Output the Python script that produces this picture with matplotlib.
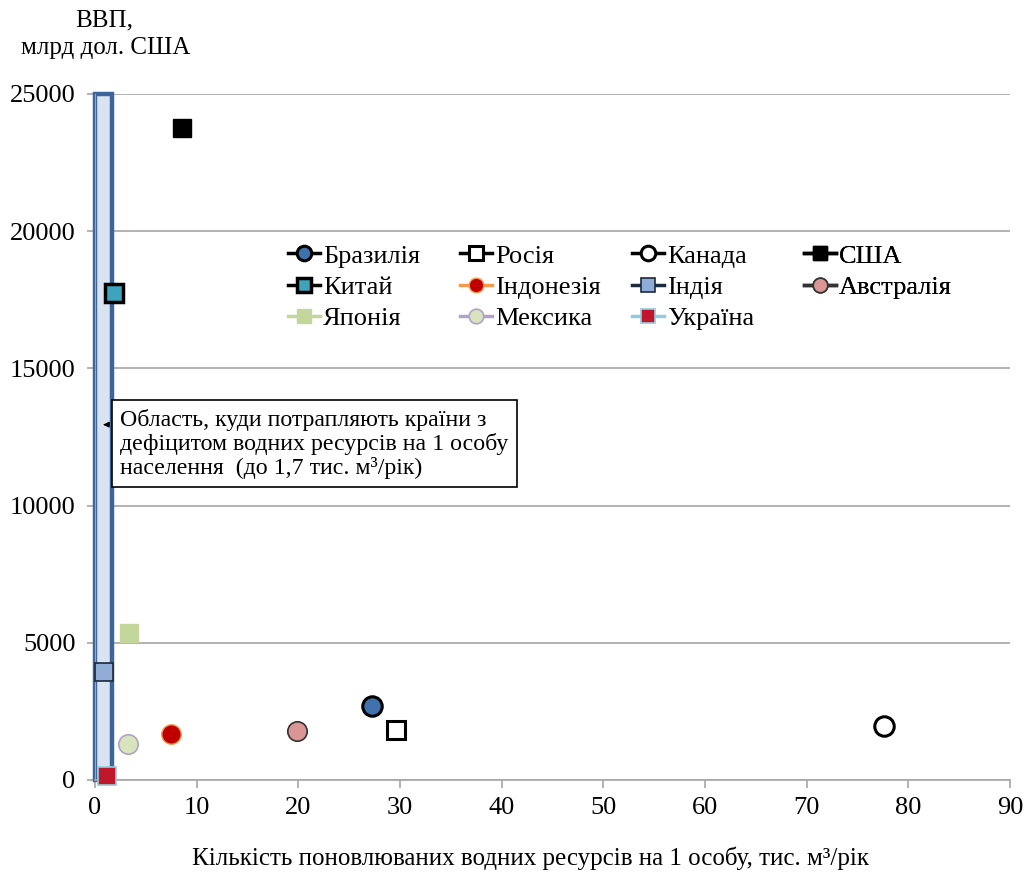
import matplotlib

matplotlib.use("Agg")
import matplotlib.pyplot as plt
from matplotlib.patches import Rectangle

plt.rcParams["font.family"] = ["Liberation Serif", "DejaVu Serif"]

# data
countries = ["Бразилія", "Росія", "Канада", "США", "Китай", "Індонезія",
             "Індія", "Австралія", "Японія", "Мексика", "Україна"]
water = [27.2, 29.6, 77.6, 8.6, 1.9, 7.5, 0.9, 19.9, 3.3, 3.2, 1.2]
gdp = [2700, 1820, 1970, 23760, 17730, 1680, 3950, 1790, 5370, 1310, 150]
deficit_limit = 1.7

# marker, line colour, face colour, edge colour, edge width
styles = {
    "Бразилія": ("o", "black", "#3f71ad", "black", 2.2),
    "Росія": ("s", "black", "white", "black", 2.2),
    "Канада": ("o", "black", "white", "black", 2.2),
    "США": ("s", "black", "black", "black", 1.0),
    "Китай": ("s", "black", "#3ea3bd", "black", 2.5),
    "Індонезія": ("o", "#f59a4a", "#c00000", "#f59a4a", 1.0),
    "Індія": ("s", "#1b2a3c", "#8eacd6", "#1b2a3c", 1.2),
    "Австралія": ("o", "#333333", "#d99694", "#333333", 1.2),
    "Японія": ("s", "#c3d69b", "#c3d69b", "#c3d69b", 1.0),
    "Мексика": ("o", "#b3a2c7", "#d7e4bd", "#b3a2c7", 1.2),
    "Україна": ("s", "#93cddd", "#c0172b", "#93cddd", 1.2),
}

fig = plt.figure(figsize=(10.27, 8.74), dpi=100)
ax = fig.add_axes([95 / 1027, 94 / 874, 915 / 1027, 686 / 874])

ax.set_xlim(0, 90)
ax.set_ylim(0, 25000)
ax.set_xticks(range(0, 91, 10))
ax.set_yticks(range(0, 25001, 5000))
ax.yaxis.grid(True, color="#a6a6a6", lw=1.2)
ax.set_axisbelow(True)
for s in ["top", "right"]:
    ax.spines[s].set_visible(False)
ax.spines["bottom"].set_color("#a6a6a6")
ax.spines["bottom"].set_linewidth(1.2)
ax.spines["left"].set_color("#a6a6a6")
ax.tick_params(axis="both", colors="#a6a6a6", labelcolor="black",
               labelsize=19, length=6, width=1.2)
ax.tick_params(axis="x", pad=6)
ax.tick_params(axis="y", pad=8)

ax.add_patch(Rectangle((0, 0), deficit_limit, 25000, facecolor="#d9e3f1",
                       edgecolor="#3c659b", lw=3.2, zorder=2, clip_on=False))

handles = {}
for name, x, y in zip(countries, water, gdp):
    mk, lc, fc, ec, mw = styles[name]
    ms = 13 if mk == "s" else 14
    (h,) = ax.plot([x], [y], marker=mk, linestyle="-", color=lc, lw=2.5,
                   mfc=fc, mec=ec, mew=mw, ms=ms, zorder=4, clip_on=False)
    handles[name] = h

# legend laid out in four equal-width columns, like the original
columns = [["Бразилія", "Китай", "Японія"], ["Росія", "Індонезія", "Мексика"],
           ["Канада", "Індія", "Україна"], ["США", "Австралія"]]
for i, col in enumerate(columns):
    leg = ax.legend([handles[n] for n in col], col, frameon=False,
                    fontsize=19, markerscale=0.75, handlelength=1.2,
                    handletextpad=0.12, labelspacing=0.3, borderpad=0,
                    borderaxespad=0, loc="upper left",
                    bbox_to_anchor=((193 + 172 * i) / 915, 0.781))
    ax.add_artist(leg)

note = ("Область, куди потрапляють країни з\n"
        "дефіцитом водних ресурсів на 1 особу\n"
        "населення  (до 1,7 тис. м³/рік)")
ax.text(2.45, 12250, note, fontsize=17.2, ha="left", va="center",
        linespacing=1.12, zorder=5,
        bbox=dict(boxstyle="square,pad=0.35", fc="white", ec="black", lw=1.2))
ax.annotate("", xy=(0.8, 12950), xytext=(1.2, 12950),
            arrowprops=dict(arrowstyle="-|>", color="black", lw=1,
                            mutation_scale=8), zorder=6)

fig.text(104 / 1027, 1 - 20 / 874, "ВВП,", fontsize=18, ha="center", va="center")
fig.text(106 / 1027, 1 - 48 / 874, "млрд дол. США", fontsize=18,
         ha="center", va="center")
fig.text(530 / 1027, 1 - 858 / 874,
         "Кількість поновлюваних водних ресурсів на 1 особу, тис. м³/рік",
         fontsize=18, ha="center", va="center")

fig.savefig("out.png", dpi=100)
